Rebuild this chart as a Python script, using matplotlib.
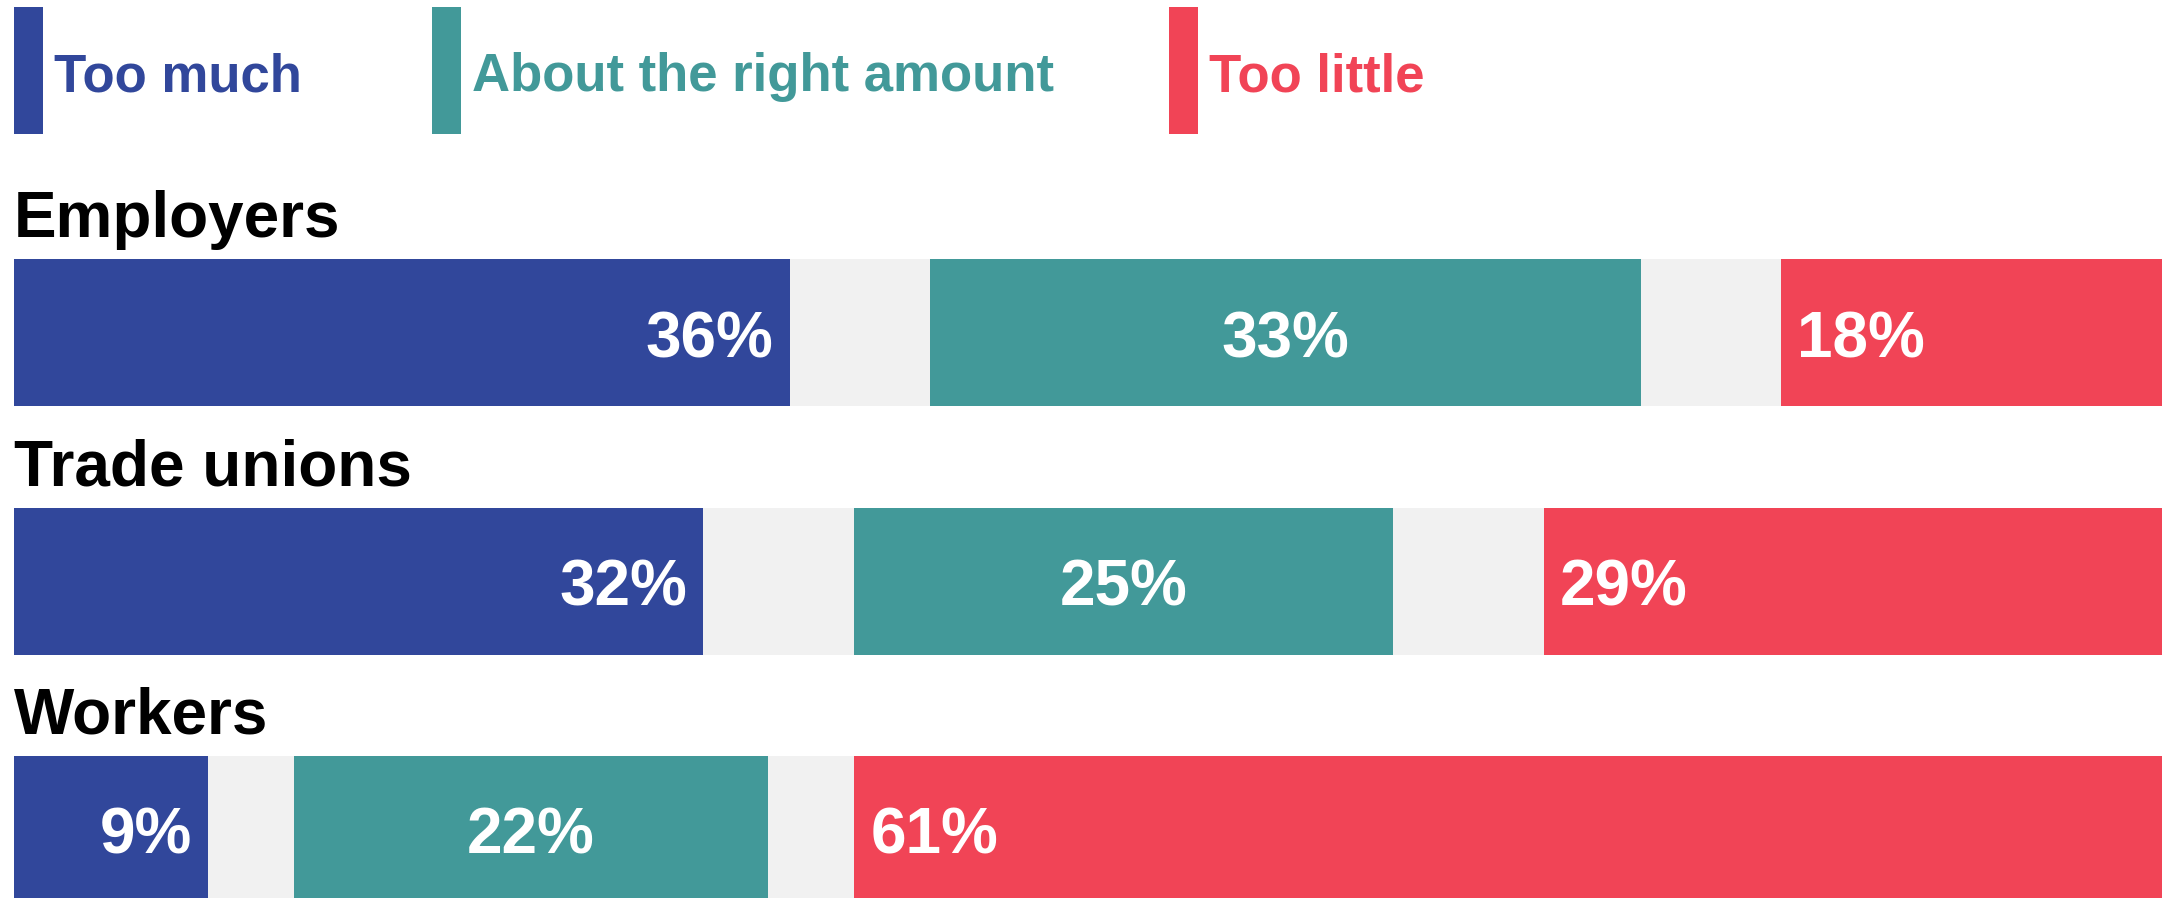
import matplotlib
matplotlib.use("Agg")
import matplotlib.pyplot as plt
from matplotlib.patches import Rectangle

# ---- data ----
categories = ["Employers", "Trade unions", "Workers"]
too_much = [36, 32, 9]
about_right = [33, 25, 22]
too_little = [18, 29, 61]
series_names = ["Too much", "About the right amount", "Too little"]

# ---- style ----
C_BLUE = "#31479B"
C_TEAL = "#429999"
C_RED = "#F14456"
C_GAP = "#F1F1F1"
colors = [C_BLUE, C_TEAL, C_RED]
FONT = "Liberation Sans"

W, H, DPI = 2162, 898, 100
fig = plt.figure(figsize=(W / DPI, H / DPI), dpi=DPI)
fig.patch.set_facecolor("white")

# main axes (x in percent)
left_px = 14
ax = fig.add_axes([left_px / W, 0, (W - left_px) / W, 1])
ax.set_xlim(0, 99.7)
pitch = 248.5
first_center = 332.5
ax.set_ylim((H - first_center) / pitch, -first_center / pitch)
ax.axis("off")
bar_h = 147 / pitch

pad_pt = 16 * 72 / DPI
label_fs = 46

for i, cat in enumerate(categories):
    tm, ar, tl = too_much[i], about_right[i], too_little[i]
    gap = (100 - tm - ar - tl) / 2
    widths = [tm, gap, ar, gap, tl]
    cols = [C_BLUE, C_GAP, C_TEAL, C_GAP, C_RED]
    left = 0
    lefts = []
    for w, c in zip(widths, cols):
        ax.barh(i, w, left=left, height=bar_h, color=c, linewidth=0)
        lefts.append(left)
        left += w
    # category label
    ax.text(0, i - bar_h / 2 - 22 / pitch, cat, fontsize=label_fs,
            fontweight="bold", family=FONT, color="black",
            ha="left", va="baseline")
    ybase = i + 24.5 / pitch
    # too much: right aligned inside
    ax.annotate(f"{tm}%", xy=(lefts[0] + tm, ybase), xytext=(-pad_pt, 0),
                textcoords="offset points", ha="right", va="baseline",
                fontsize=label_fs, fontweight="bold", family=FONT, color="white")
    # about right: centered
    ax.text(lefts[2] + ar / 2, ybase, f"{ar}%", ha="center", va="baseline",
            fontsize=label_fs, fontweight="bold", family=FONT, color="white")
    # too little: left aligned inside
    ax.annotate(f"{tl}%", xy=(lefts[4], ybase), xytext=(pad_pt, 0),
                textcoords="offset points", ha="left", va="baseline",
                fontsize=label_fs, fontweight="bold", family=FONT, color="white")

# legend axes in pixel units
lax = fig.add_axes([0, 0, 1, 1])
lax.set_xlim(0, W)
lax.set_ylim(H, 0)
lax.axis("off")
leg_x = [14, 432, 1169]
for x, name, c in zip(leg_x, series_names, colors):
    lax.add_patch(Rectangle((x, 7), 29, 127, color=c, linewidth=0))
    lax.text(x + 29 + 11, 91.5, name, fontsize=38, fontweight="bold",
             family=FONT, color=c, ha="left", va="baseline")

fig.savefig("out.png", dpi=DPI, facecolor="white")
